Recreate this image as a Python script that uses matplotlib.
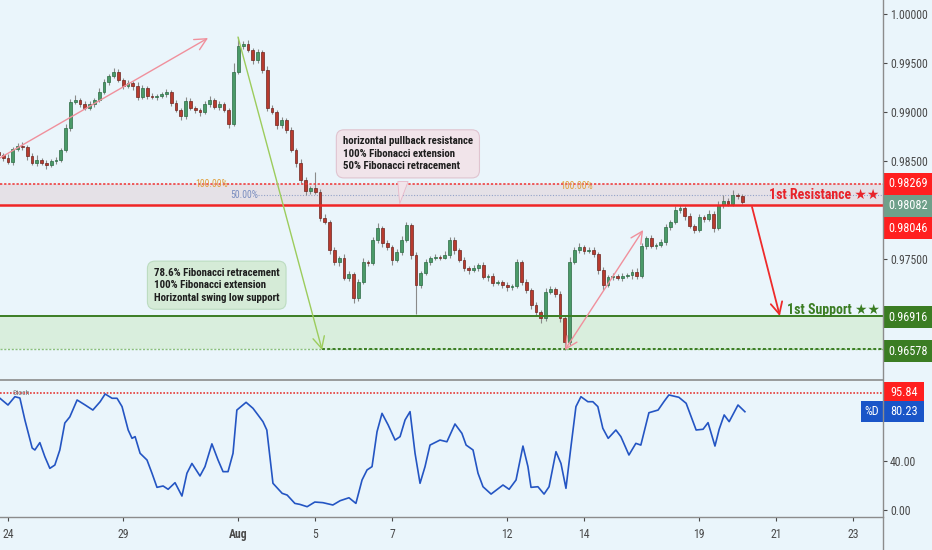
import matplotlib
matplotlib.use('Agg')
import matplotlib.pyplot as plt
import matplotlib.transforms as mtrans
from matplotlib.patches import Rectangle, Polygon
from matplotlib.lines import Line2D
from matplotlib import font_manager as fm
import numpy as np

_avail = {f.name for f in fm.fontManager.ttflist}
NARROW = next((n for n in ['Liberation Sans Narrow', 'Roboto Condensed', 'Open Sans Condensed']
               if n in _avail), 'DejaVu Sans')
FAM = [NARROW, 'DejaVu Sans']
plt.rcParams['font.family'] = FAM

# ---------------- data ----------------
CANDLES_PER_DAY = 8          # candle spacing in trading days
K_START = -2                 # index of first candle
FIRST_OPEN = 0.98590
PIP = 0.0001

CLOSE = [0.98561, 0.98531, 0.98490, 0.98622, 0.98653, 0.98643, 0.98551, 0.98480, 0.98510, 0.98480,
         0.98459, 0.98500, 0.98510, 0.98612, 0.98837, 0.99102, 0.99122, 0.99082, 0.99041, 0.99082,
         0.99122, 0.99204, 0.99306, 0.99367, 0.99408, 0.99327, 0.99265, 0.99296, 0.99265, 0.99153,
         0.99245, 0.99163, 0.99153, 0.99160, 0.99184, 0.99204, 0.99092, 0.99020, 0.98959, 0.99112,
         0.99041, 0.99020, 0.99000, 0.99082, 0.99122, 0.99051, 0.99082, 0.99020, 0.98878, 0.99408,
         0.99673, 0.99694, 0.99633, 0.99531, 0.99612, 0.99429, 0.99041, 0.99000, 0.98867, 0.98918,
         0.98816, 0.98612, 0.98480, 0.98306, 0.98194, 0.98224, 0.98184, 0.97918, 0.97878, 0.97592,
         0.97469, 0.97510, 0.97306, 0.97347, 0.97102, 0.97265, 0.97469, 0.97459, 0.97694, 0.97816,
         0.97663, 0.97622, 0.97490, 0.97571, 0.97694, 0.97847, 0.97541, 0.97235, 0.97357, 0.97469,
         0.97510, 0.97520, 0.97515, 0.97541, 0.97694, 0.97592, 0.97490, 0.97408, 0.97388, 0.97408,
         0.97439, 0.97316, 0.97327, 0.97255, 0.97265, 0.97235, 0.97214, 0.97224, 0.97469, 0.97265,
         0.97184, 0.97031, 0.96959, 0.96898, 0.97163, 0.97194, 0.97143, 0.96898, 0.96653, 0.97469,
         0.97592, 0.97622, 0.97582, 0.97592, 0.97551, 0.97388, 0.97235, 0.97316, 0.97327, 0.97306,
         0.97327, 0.97337, 0.97367, 0.97327, 0.97633, 0.97714, 0.97633, 0.97643, 0.97673, 0.97827,
         0.97878, 0.98000, 0.98020, 0.97939, 0.97837, 0.97796, 0.97929, 0.97908, 0.97959, 0.97816,
         0.98051, 0.98092, 0.98061, 0.98153, 0.98143, 0.98082]

UP_WICK = [3, 2, 4, 2, 3, 4, 2, 3, 5, 2,
           3, 2, 3, 2, 4, 3, 5, 2, 3, 3,
           2, 4, 3, 2, 4, 3, 2, 3, 2, 4,
           3, 2, 3, 2, 2, 3, 2, 3, 2, 4,
           3, 2, 2, 3, 4, 2, 3, 2, 2, 9,
           9, 3, 4, 2, 3, 2, 4, 3, 2, 3,
           2, 3, 2, 4, 3, 2, 16, 3, 4, 2,
           3, 2, 4, 3, 2, 3, 4, 2, 3, 5,
           2, 3, 2, 3, 4, 3, 2, 3, 2, 3,
           2, 3, 2, 4, 3, 3, 2, 3, 2, 3,
           2, 3, 2, 3, 2, 2, 3, 2, 3, 2,
           3, 2, 3, 2, 4, 3, 2, 3, 2, 5,
           3, 4, 2, 3, 3, 2, 3, 2, 3, 2,
           3, 2, 3, 4, 3, 2, 3, 2, 3, 3,
           2, 4, 3, 2, 3, 2, 3, 2, 4, 3,
           4, 6, 3, 5, 2, 2]

DN_WICK = [2, 3, 2, 3, 2, 3, 4, 2, 3, 2,
           4, 2, 3, 2, 2, 3, 2, 3, 2, 2,
           3, 2, 2, 3, 2, 2, 3, 2, 4, 3,
           2, 3, 2, 3, 2, 3, 3, 2, 4, 3,
           2, 3, 4, 2, 3, 2, 3, 2, 4, 2,
           2, 3, 2, 4, 3, 3, 3, 2, 4, 3,
           3, 2, 4, 3, 4, 3, 2, 3, 2, 4,
           3, 4, 2, 3, 5, 3, 2, 3, 2, 3,
           4, 3, 5, 2, 3, 2, 4, 30, 3, 2,
           3, 2, 3, 2, 3, 4, 2, 3, 4, 2,
           3, 2, 4, 3, 2, 3, 4, 3, 2, 3,
           3, 4, 3, 5, 3, 2, 3, 4, 8, 3,
           2, 3, 3, 2, 3, 4, 5, 2, 3, 2,
           3, 2, 4, 3, 2, 3, 2, 3, 2, 3,
           3, 2, 3, 4, 2, 3, 2, 3, 2, 4,
           2, 3, 2, 2, 3, 2]

STOCH_T = [-0.21, 0, 0.18, 0.31, 0.44, 0.63, 0.70, 0.83, 0.96, 1.09, 1.22, 1.35, 1.48, 1.61, 1.80,
           2.01, 2.21, 2.40, 2.53, 2.71, 2.84, 2.97, 3.13, 3.23, 3.31, 3.44, 3.62, 3.75, 3.88, 4.04,
           4.17, 4.35, 4.53, 4.66, 4.79, 5.00, 5.13, 5.31, 5.47, 5.60, 5.73, 5.86, 5.96, 6.20, 6.38,
           6.51, 6.64, 6.74, 6.90, 7.14, 7.27, 7.47, 7.60, 7.79, 7.99, 8.20, 8.46, 8.65, 8.88, 9.06,
           9.22, 9.35, 9.48, 9.61, 9.74, 9.90, 10.08, 10.21, 10.34, 10.47, 10.60, 10.73, 10.86, 10.99,
           11.25, 11.43, 11.64, 11.82, 11.93, 12.11, 12.24, 12.37, 12.58, 12.89, 13.05, 13.23, 13.41,
           13.54, 13.62, 13.80, 13.96, 14.09, 14.27, 14.40, 14.53, 14.66, 14.79, 14.92, 15.10, 15.23,
           15.36, 15.49, 15.63, 15.83, 15.96, 16.17, 16.35, 16.48, 16.69, 16.93, 17.08, 17.21, 17.47,
           17.66, 17.92, 18.10, 18.23, 18.41, 18.52, 18.65, 18.78, 19.01, 19.19]
STOCH_D = [91.2, 85.7, 92.5, 91.4, 73.5, 50.6, 49, 55, 43.5, 34, 36.7, 49, 71, 76, 89.8,
           85.7, 81.6, 88.4, 94.7, 91.2, 91.2, 84.4, 65.3, 58.5, 59.9, 46.3, 40.8, 30, 18.5, 19.6,
           16.9, 22.3, 11.4, 30, 38, 27.8, 35.4, 54, 40.8, 31.3, 31.3, 46.3, 81.6, 87.9, 83,
           77.6, 72.1, 65.3, 21.8, 13.6, 12.2, 5.4, 4.6, 2.7, 6.5, 6, 4.1, 7.6, 10, 5.4,
           24.5, 32.7, 35.4, 63.9, 78.9, 69.4, 57.1, 59.9, 73.5, 80.3, 46.3, 21.8, 35.4, 53,
           57.1, 55.7, 70.2, 62.6, 53, 49, 30, 19, 13, 20.4, 16.9, 24.5, 52.2,
           35.4, 18.5, 19, 13, 19, 47.6, 38, 17.7, 51.7, 84.4, 92.5, 88.4, 88.4,
           84.4, 66.7, 58.5, 65.3, 59.9, 44.9, 54.4, 53, 79.4, 81.6, 88.4, 93.9, 92,
           87.1, 65.3, 65.9, 71.3, 52.2, 65.9, 77.6, 72.1, 85.7, 80.23]

DAY_TICKS = [0, 3, 6, 8, 10, 13, 15, 18, 20, 22]
DAY_LABELS = ['24', '29', 'Aug', '5', '7', '12', '14', '19', '21', '23']
PRICE_TICKS = [0.975, 0.985, 0.990, 0.995, 1.000]   # others sit under the price tags
STOCH_TICKS = [0, 40]

RES_TOP, RES_BOT = 0.98269, 0.98046
SUP_TOP, SUP_BOT = 0.96916, 0.96578
LAST_PRICE = 0.98082
FIB50 = 0.98153
STOCH_LEVEL = 95.84
STOCH_LAST = 80.23

BOX_RES = "horizontal pullback resistance\n100% Fibonacci extension\n50% Fibonacci retracement"
BOX_SUP = "78.6% Fibonacci retracement\n100% Fibonacci extension\nHorizontal swing low support"

# drawings (trading-day, price)
TREND_UP_1 = ((-0.21, 0.98531), (5.21, 0.99755))
DROP_LINE = ((5.99, 0.99765), (8.18, 0.96571))
TREND_UP_2 = ((14.5, 0.96571), (16.54, 0.97796))
PROJECTION = ((19.375, 0.98031), (20.1, 0.96918))

# ---------------- figure ----------------
W, H = 932, 550
BG = '#eaf5fb'
fig = plt.figure(figsize=(W / 100, H / 100), dpi=100)
fig.patch.set_facecolor(BG)
AXW = 883
ax = fig.add_axes([0, 1 - 380 / H, AXW / W, 380 / H])
axs = fig.add_axes([0, 1 - 517 / H, AXW / W, 136 / H], sharex=ax)
for a in (ax, axs):
    a.set_facecolor(BG)
    for s in a.spines.values():
        s.set_visible(False)

XL = (-0.208, 22.786)
ax.set_xlim(*XL)
ax.set_ylim(0.962653, 1.001429)
axs.set_ylim(-5.71, 105.3)

# zones
ax.axhspan(RES_BOT, RES_TOP, color='#e5e1e7', zorder=1, lw=0)
ax.axhspan(SUP_BOT, SUP_TOP, color='#d9eedd', zorder=1, lw=0)
ax.axhline(RES_TOP, color='#f03030', lw=1.1, ls=(0, (1.5, 1.2)), zorder=5)
ax.axhline(RES_BOT, color='#f02525', lw=1.8, zorder=5)
ax.axhline(SUP_TOP, color='#3b7d23', lw=1.4, zorder=5)
ax.axhline(SUP_BOT, color='#8cc07a', lw=1.0, ls=(0, (1.5, 1.2)), zorder=5)
ax.plot([DROP_LINE[1][0], XL[1]], [SUP_BOT, SUP_BOT], color='#3b7d23', lw=1.4,
        ls=(0, (1.5, 1.2)), zorder=5)
ax.plot([6.51, XL[1]], [FIB50, FIB50], color='#93a2c8', lw=0.8, ls=(0, (1, 1.5)), zorder=2)
ax.text(4.87, 0.98262, '100.00%', color='#e0a040', fontsize=7, va='center', ha='left', zorder=6)
ax.text(5.78, FIB50, '50.00%', color='#7a8ec0', fontsize=7, va='center', ha='left', zorder=6)
ax.text(14.375, 0.98245, '100.00%', color='#e0a040', fontsize=7, va='center', ha='left', zorder=6)

# candles
k = np.arange(K_START, K_START + len(CLOSE))
t = k / CANDLES_PER_DAY
close = np.array(CLOSE)
open_ = np.concatenate([[FIRST_OPEN], close[:-1]])
high = np.maximum(open_, close) + np.array(UP_WICK) * PIP
low = np.minimum(open_, close) - np.array(DN_WICK) * PIP
up = close >= open_
ax.vlines(t, low, high, color='#8a8a8a', lw=0.8, zorder=3)
body = np.maximum(np.abs(close - open_), 0.00004)
ax.bar(t, body, bottom=np.minimum(open_, close), width=0.075,
       color=np.where(up, '#4a9a68', '#b83a2e'),
       edgecolor=np.where(up, '#2d6a44', '#6e2620'), linewidth=0.5, zorder=4)

# drawings
def arrow(a, seg, color, style='->', lw=1.0, z=7):
    a.annotate('', xy=seg[1], xytext=seg[0],
               arrowprops=dict(arrowstyle=style + ',head_length=0.7,head_width=0.35',
                               color=color, lw=lw, shrinkA=0, shrinkB=0,
                               mutation_scale=12), zorder=z)

arrow(ax, TREND_UP_1, '#f0909c')
arrow(ax, DROP_LINE, '#9ccc5c')
arrow(ax, TREND_UP_2, '#f0909c', style='<->')
arrow(ax, PROJECTION, '#ee2a2a', lw=1.3)

# annotation boxes
ax.text(8.72, 0.98752, BOX_RES, fontsize=7.8, fontweight='bold', color='#1e1e1e',
        va='top', ha='left', linespacing=1.32, zorder=9,
        bbox=dict(boxstyle='round,pad=0.6,rounding_size=0.7', fc='#f1e4ea', ec='#e0c4d0', lw=0.8))
ax.add_patch(Polygon([(10.15, 0.98290), (10.42, 0.98290), (10.2, 0.98065)], closed=True,
                     fc='#f1e4ea', ec='#e8b8c8', lw=0.6, zorder=8))
ax.text(3.80, 0.97412, BOX_SUP, fontsize=7.8, fontweight='bold', color='#1e1e1e',
        va='top', ha='left', linespacing=1.32, zorder=9,
        bbox=dict(boxstyle='round,pad=0.6,rounding_size=0.7', fc='#d5ebd7', ec='#bcdcc0', lw=0.8))

ax.text(22.7, 0.98155, '1st Resistance ★★', color='#e8232a', fontsize=10, fontweight='bold',
        ha='right', va='center', zorder=9, family=FAM)
ax.text(22.7, 0.96978, '1st Support ★★', color='#3b7d23', fontsize=10, fontweight='bold',
        ha='right', va='center', zorder=9, family=FAM)

# stochastic
axs.axhline(STOCH_LEVEL, color='#e53935', lw=1.2, ls=(0, (1, 1)), zorder=2)
axs.plot(STOCH_T, STOCH_D, color='#2455c3', lw=1.2, zorder=3)
axs.text(0.12, 95.5, 'Stoch', color='#777777', fontsize=5.5, va='center', ha='left')

# axes ticks
ax.yaxis.tick_right()
ax.set_yticks(PRICE_TICKS)
ax.set_yticklabels(['%.5f' % v for v in PRICE_TICKS])
ax.tick_params(axis='y', labelsize=8.5, colors='#4a4a4a', length=3, width=0.8, pad=2)
ax.tick_params(axis='x', bottom=False, labelbottom=False)
axs.yaxis.tick_right()
axs.set_yticks(STOCH_TICKS)
axs.set_yticklabels(['%.2f' % v for v in STOCH_TICKS])
axs.tick_params(axis='y', labelsize=8.5, colors='#4a4a4a', length=3, width=0.8, pad=2)
axs.set_xticks(DAY_TICKS)
axs.set_xticklabels(DAY_LABELS)
axs.tick_params(axis='x', labelsize=8.5, colors='#4a4a4a', length=3, width=0.8, pad=5)
for lab in axs.get_xticklabels():
    if lab.get_text() == 'Aug':
        lab.set_fontweight('bold')

# price tags on the axis
def tag(a, yval, text, fc, x0=884, w=48, h=22, tsize=8.8):
    pos = a.get_position()
    y0, y1 = a.get_ylim()
    ppu = H * pos.height / (y1 - y0)
    tr = mtrans.blended_transform_factory(a.transAxes, a.transData)
    a.add_patch(Rectangle((x0 / AXW, yval - h / 2 / ppu), w / AXW, h / ppu, transform=tr,
                          fc=fc, ec='none', clip_on=False, zorder=20))
    a.text((x0 + w / 2) / AXW, yval, text, transform=tr, ha='center', va='center',
           color='white', fontsize=tsize, clip_on=False, zorder=21)

tag(ax, 0.98269, '%.5f' % RES_TOP, '#ff1f1f')
tag(ax, 0.98041, '%.5f' % LAST_PRICE, '#6fa08a')
tag(ax, 0.97816, '%.5f' % RES_BOT, '#ff1f1f')
tag(ax, 0.96908, '%.5f' % SUP_TOP, '#3b7d23')
tag(ax, 0.96561, '%.5f' % SUP_BOT, '#3b7d23')
tag(axs, 96.0, '%.2f' % STOCH_LEVEL, '#ff1f1f', w=40, h=21)
tag(axs, 80.0, '%.2f' % STOCH_LAST, '#1a55c8', w=40, h=21)
tag(axs, 80.0, '%D', '#1a55c8', x0=861, w=22, h=21)

# frame lines
fig.add_artist(Line2D([AXW / W, AXW / W], [0, 1], transform=fig.transFigure, color='#8c8c8c', lw=1))
fig.add_artist(Line2D([0, AXW / W], [1 - 380 / H] * 2, transform=fig.transFigure, color='#8c8c8c', lw=1.2))
fig.add_artist(Line2D([0, AXW / W], [1 - 517 / H] * 2, transform=fig.transFigure, color='#8c8c8c', lw=1))

fig.savefig('out.png', dpi=100, facecolor=BG)
